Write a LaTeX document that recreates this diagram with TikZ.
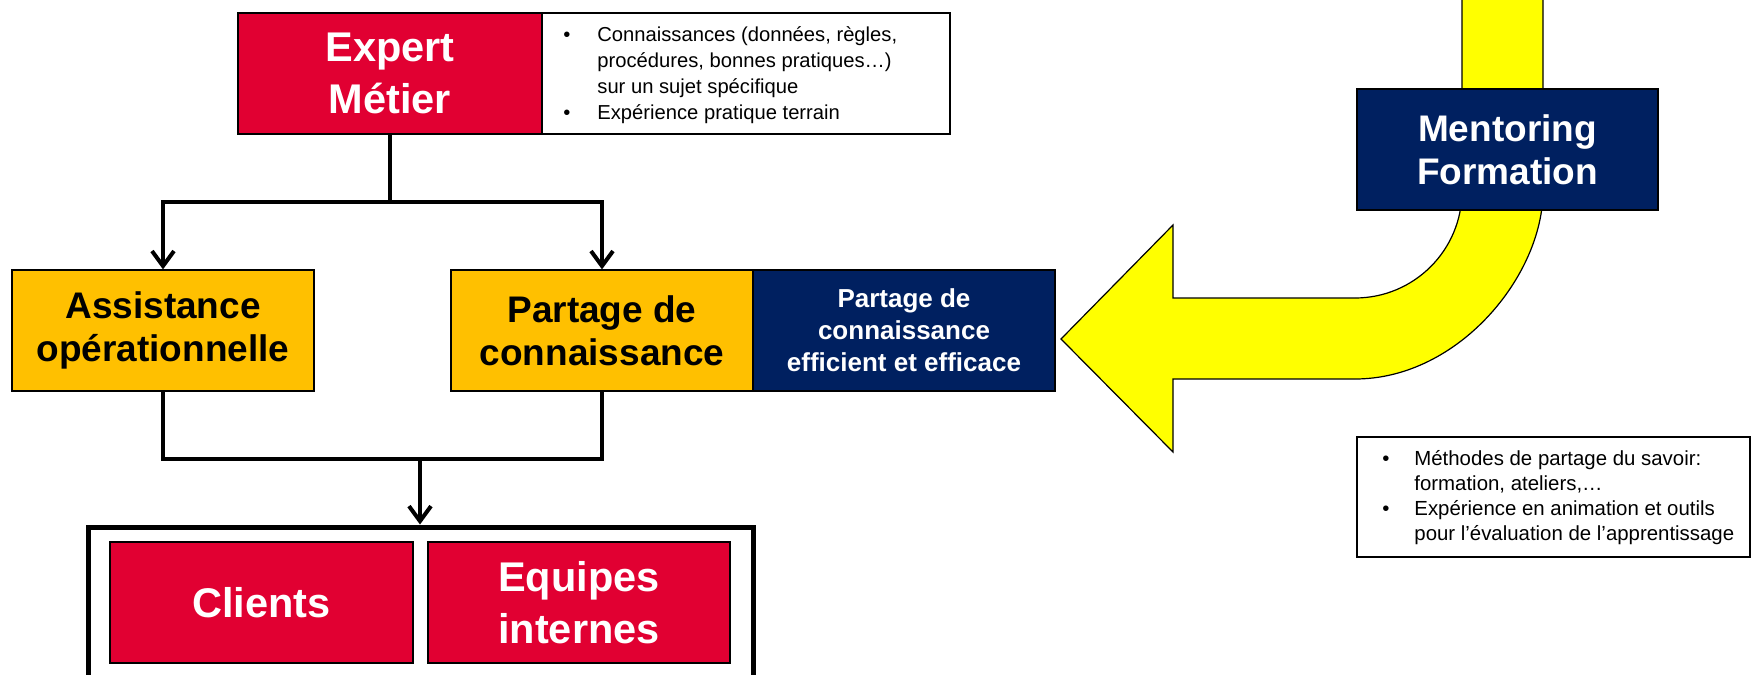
\documentclass[tikz,border=0pt]{standalone}
\usepackage{fontspec}
\setmainfont{Liberation Sans}
\usetikzlibrary{arrows.meta}
\definecolor{cred}{HTML}{E10032}
\definecolor{cgold}{HTML}{FFC000}
\definecolor{cnavy}{HTML}{002060}
\definecolor{cyel}{HTML}{FFFF00}
\begin{document}
\begin{tikzpicture}[x=0.5pt,y=-0.5pt,
  box/.style={draw=black, line width=0.6pt, rectangle, inner sep=0pt,
    minimum width=151pt, minimum height=60.5pt, align=center},
  redbox/.style={box, fill=cred, text=white,
    font=\fontsize{20.75pt}{26pt}\selectfont\bfseries},
  goldbox/.style={box, fill=cgold, text=black,
    font=\fontsize{18.5pt}{21.5pt}\selectfont\bfseries},
  navybox/.style={box, fill=cnavy, text=white},
  conn/.style={line width=2pt, draw=black},
  arr/.style={conn, -{Straight Barb[length=7.5pt,width=11pt]}},
  small/.style={align=left, inner sep=0pt}
]
\useasboundingbox (0,0) rectangle (1758,675);

% yellow bent arrow
\draw[fill=cyel, draw=black, line width=0.6pt]
  (1462,-10) -- (1462,191)
  .. controls (1462,250.1) and (1414.1,298) .. (1355,298)
  -- (1173,298) -- (1173,225) -- (1061,339) -- (1173,452) -- (1173,379)
  -- (1355,379)
  .. controls (1458.8,379) and (1543,275.2) .. (1543,191)
  -- (1543,-10) -- cycle;

% top
\node[redbox, minimum width=152pt] (expert) at (390,73.5) {Expert\\Métier};
\node[box, fill=white, minimum width=204pt] (exptxt) at (746,73.5) {};
\node[small, anchor=west, font=\fontsize{10.1pt}{12.9pt}\selectfont] (exptext) at (563,75)
  {\makebox[17pt][l]{•}Connaissances (données, règles,\\
   \hspace*{17pt}procédures, bonnes pratiques…)\\
   \hspace*{17pt}sur un sujet spécifique\\
   \makebox[17pt][l]{•}Expérience pratique terrain};

% middle
\node[goldbox] (assist) at (163,330.5) {Assistance\\opérationnelle};
\node[goldbox] (partage) at (602,330.5) {Partage de\\connaissance};
\node[navybox, font=\fontsize{13pt}{16pt}\selectfont\bfseries] (effic) at (904,330.5)
  {Partage de\\connaissance\\efficient et efficace};

% mentoring
\node[navybox, minimum width=150.5pt, font=\fontsize{18.5pt}{21.5pt}\selectfont\bfseries]
  (mentor) at (1507.5,149.5) {Mentoring\\Formation};

% right text box
\node[box, fill=white, line width=0.8pt, minimum width=196.5pt, minimum height=60pt] (rbox) at (1553.5,497) {};
\node[small, anchor=west, font=\fontsize{10.2pt}{12.5pt}\selectfont] (rtext) at (1382,498)
  {\makebox[16pt][l]{•}Méthodes de partage du savoir:\\
   \hspace*{16pt}formation, ateliers,…\\
   \makebox[16pt][l]{•}Expérience en animation et outils\\
   \hspace*{16pt}pour l’évaluation de l’apprentissage};

% bottom target
\node[draw=black, line width=2.5pt, rectangle, inner sep=0pt,
  minimum width=332.5pt, minimum height=86.5pt] (cible) at (420.5,613.5) {};
\node[redbox, minimum width=151.5pt] (clients) at (261.5,602.5) {Clients};
\node[redbox] (equipes) at (579,602.5) {Equipes\\internes};

% connectors
\coordinate (jT) at (390,202);
\coordinate (jB) at (420,459);
\draw[conn] (expert.south) -- (jT);
\draw[arr] (jT) -| (assist.north);
\draw[arr] (jT) -| (partage.north);
\draw[conn] (assist.south) |- (jB);
\draw[conn] (partage.south) |- (jB);
\draw[arr] (jB) -- (jB |- cible.north);
\end{tikzpicture}
\end{document}
